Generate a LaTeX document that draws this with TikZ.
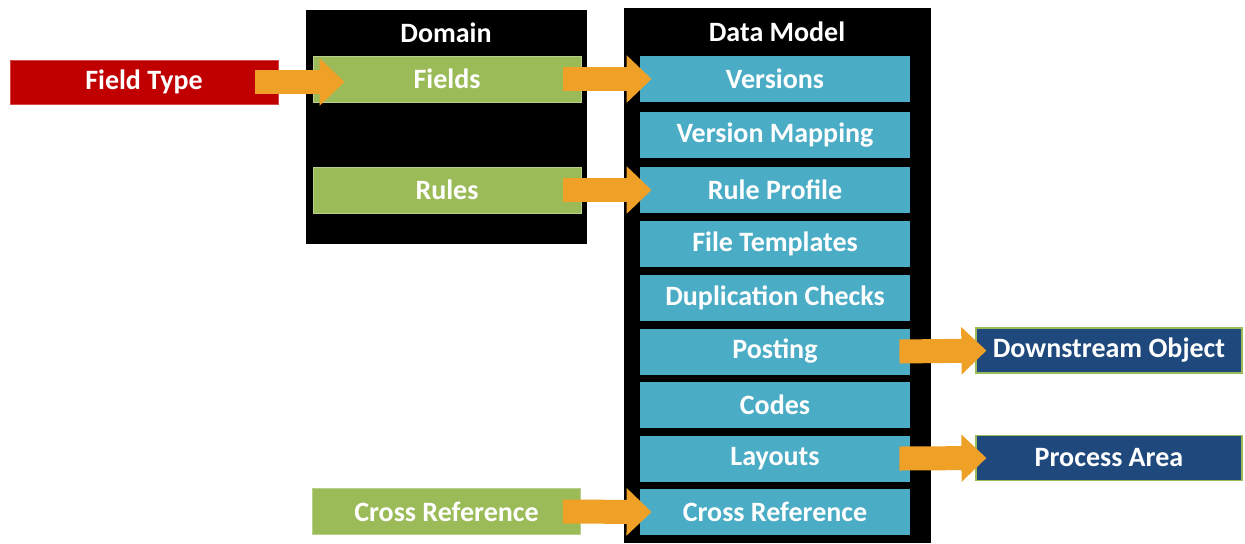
\documentclass[tikz,border=0pt]{standalone}
\usepackage{fontspec}
\setmainfont{Carlito}
\usetikzlibrary{arrows.meta}
\definecolor{ftred}{HTML}{C00000}
\definecolor{domgreen}{HTML}{9BBB59}
\definecolor{dmblue}{HTML}{4BACC6}
\definecolor{outblue}{HTML}{1F497D}
\definecolor{flowor}{HTML}{EFA026}
\begin{document}
\begin{tikzpicture}[x=.5pt, y=-.5pt,
  every node/.style={text=white, inner sep=0pt, font=\bfseries\fontsize{14}{16}\selectfont},
  redbox/.style={fill=ftred, draw=ftred!70!white, line width=.4pt, minimum width=134pt, minimum height=22pt},
  greenbox/.style={fill=domgreen, draw=domgreen!70!white, line width=.4pt, minimum width=134pt, minimum height=23pt},
  dmbox/.style={fill=dmblue, minimum width=135pt, minimum height=23pt},
  outbox/.style={fill=outblue, draw=domgreen, line width=.6pt, minimum width=133pt, minimum height=22.5pt},
  flow/.style={draw=flowor, line width=12pt, -{Triangle[length=12.5pt,width=23pt]}}]
\useasboundingbox (0,0) rectangle (1245,543);
% black panels
\fill[black] (306,10) rectangle (587,244);
\fill[black] (624,8) rectangle (931,543);
\node (domtitle) at (446,33) {Domain};
\node (dmtitle) at (777,32) {Data Model};
% domain side
\node[redbox] (ftype) at (144,82) {Field Type};
\node[greenbox] (fields) at (447,79) {Fields};
\node[greenbox] (rules) at (447,190) {Rules};
\node[greenbox] (xrefdom) at (446.5,511.5) {Cross Reference};
% data model entries
\foreach \y/\name/\txt in {79/versions/Versions, 135/vmap/Version Mapping,
  190/ruleprof/Rule Profile, 243.5/ftempl/File Templates,
  297.5/dupchk/Duplication Checks, 351.5/posting/Posting, 404.5/codes/Codes,
  458.5/layouts/Layouts, 512/xrefdm/Cross Reference}
{
  \node[dmbox] (\name) at (775,\y) {\txt};
}
% outputs
\node[outbox] (downobj) at (1109,350.5) {Downstream Object};
\node[outbox] (procarea) at (1109,458) {Process Area};
% arrows
\draw[flow] ([xshift=-11.5pt]ftype.east) -- ([xshift=16pt]ftype.east -| fields.west);
\draw[flow] ([xshift=-9pt]fields.east) -- ([xshift=6pt]versions.west);
\draw[flow] ([xshift=-9pt]rules.east) -- ([xshift=6pt]ruleprof.west);
\draw[flow] ([xshift=-9pt]xrefdom.east) -- ([xshift=6pt]xrefdm.west);
\draw[flow] ([xshift=-5.5pt]posting.east) -- ([xshift=5.5pt]downobj.west);
\draw[flow] ([xshift=-5.5pt]layouts.east) -- ([xshift=5.5pt]procarea.west);
\end{tikzpicture}
\end{document}
